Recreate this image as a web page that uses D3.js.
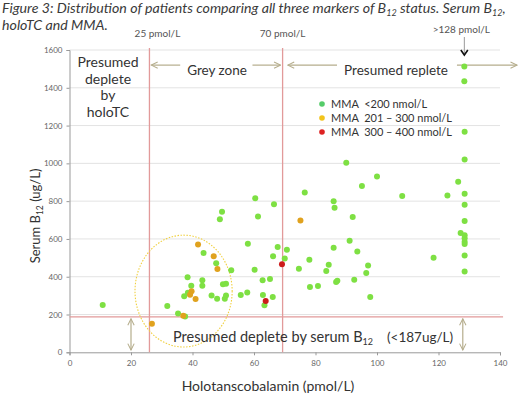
<!DOCTYPE html>
<html>
<head>
<meta charset="utf-8">
<script src="https://cdn.jsdelivr.net/npm/d3@7"></script>
<style>
  body { margin: 0; background: #fff; }
  text { font-family: Lato, "Open Sans", sans-serif; }
</style>
</head>
<body>
<svg id="chart" width="520" height="396"></svg>
<script>
// holoTC (pmol/L), serum B12 (ug/L)
const greenPts = [
  [10.8,250],[31.8,245],[35.3,206],[37.6,190],[37.3,296],[38.5,315],[38.4,397],[39.6,352],
  [43.2,381],[43.2,352],[43.6,525],[46.2,301],[47.7,471],[48.0,284],[49.9,360],[50.9,363],
  [50.5,284],[50.9,301],[52.6,434],[48.9,704],[49.6,744],[55.7,303],[57.8,317],[58.0,575],
  [60.2,437],[60.4,815],[61.3,719],[62.8,381],[65.2,388],[62.9,303],[66.1,293],[63.4,249],
  [66.5,783],[67.7,557],[66.2,508],[70.7,543],[70.0,497],[74.6,442],[76.5,846],[78.0,490],
  [78.2,346],[80.8,351],[83.5,430],[84.3,464],[85.9,553],[85.9,800],[86.2,765],[86.7,372],
  [87.1,379],[90.0,1003],[91.1,590],[92.1,716],[92.6,384],[93.6,534],[95.1,880],[96.5,420],
  [97.1,460],[97.8,293],[100,931],[108.2,827],[118.4,501],[122.9,830],[126.4,903],[127.2,631],
  [128.4,1513],[128.4,1435],[128.5,1167],[128.5,1021],[128.5,839],[128.5,781],[128.5,695],
  [128.5,619],[128.5,603],[128.5,585],[128.5,573],[128.5,513],[128.5,427]
]
const orangePts = [
  [26.8,151],[37.0,194],[39.7,323],[39.2,305],[41.0,282],[41.8,570],[46.9,509],[48.1,441],[75.1,698]
]
const redPts = [[69.1,466],[63.8,271]]

const xTicks = [0,20,40,60,80,100,120,140]
const yTicks = [0,200,400,600,800,1000,1200,1400,1600]
const legendLabels = ["MMA  <200 nmol/L", "MMA  201 \u2013 300 nmol/L", "MMA  300 \u2013 400 nmol/L"]
const legendColors = ["#55cc6a", "#f2c41c", "#dd2222"]
const cutHolo = [26, 69.3]   // 25 and 70 pmol/L lines
const cutB12 = 187

const svg = d3.select("#chart")
const x = d3.scaleLinear().domain([0,140]).range([69.5,500])
const y = d3.scaleLinear().domain([0,1600]).range([352.3,50])

const arrowCol = "#b5ad8c"
const defs = svg.append("defs")
defs.append("marker").attr("id","chev").attr("viewBox","0 0 10 10")
  .attr("refX",9).attr("refY",5).attr("markerWidth",8).attr("markerHeight",8)
  .attr("orient","auto-start-reverse").attr("markerUnits","userSpaceOnUse")
  .append("path").attr("d","M1,1 L9,5 L1,9").attr("fill","none")
  .attr("stroke",arrowCol).attr("stroke-width",1.3)

// title
const title = svg.append("g").attr("fill","#3a3a3a").style("font-style","italic").style("font-size","14.2px")
const t1 = title.append("text").attr("x",2).attr("y",13)
t1.append("tspan").text("Figure 3: Distribution of patients comparing all three markers of B")
t1.append("tspan").text("12").attr("dy",3).style("font-size","9px")
t1.append("tspan").text(" status. Serum B").attr("dy",-3)
t1.append("tspan").text("12").attr("dy",3).style("font-size","9px")
t1.append("tspan").text(",").attr("dy",-3)
title.append("text").attr("x",2).attr("y",30).text("holoTC and MMA.")

// grid
svg.append("g").selectAll("line").data(yTicks.slice(1)).join("line")
  .attr("x1",x(0)).attr("x2",x(140)).attr("y1",d=>y(d)).attr("y2",d=>y(d))
  .attr("stroke","#e3e3e3")

// axes
const yAxis = svg.append("g").attr("transform",`translate(${x(0)},0)`)
  .call(d3.axisLeft(y).tickValues(yTicks).tickFormat(d3.format("d")).tickSize(3).tickPadding(4))
const xAxis = svg.append("g").attr("transform",`translate(0,${y(0)})`)
  .call(d3.axisBottom(x).tickValues(xTicks).tickSize(3).tickPadding(5))
for (const a of [xAxis, yAxis]) {
  a.select(".domain").attr("stroke","#999")
  a.selectAll(".tick line").attr("stroke","#999")
  a.selectAll(".tick text").attr("fill","#666").style("font-size","8px")
}

// cut-off lines
svg.append("g").selectAll("line").data(cutHolo).join("line")
  .attr("x1",d=>x(d)).attr("x2",d=>x(d)).attr("y1",y(1610)).attr("y2",y(0))
  .attr("stroke","#e29a9a").attr("stroke-width",1.3)
svg.append("line").attr("x1",x(0)).attr("x2",x(141)).attr("y1",y(cutB12)).attr("y2",y(cutB12))
  .attr("stroke","#e29a9a").attr("stroke-width",1.3)

// dotted circle round the low group
svg.append("ellipse").attr("cx",x(37.1)).attr("cy",y(324))
  .attr("rx",x(15.8)-x(0)).attr("ry",y(0)-y(296))
  .attr("fill","none").attr("stroke","#f0d040").attr("stroke-width",1.1).attr("stroke-dasharray","1.5,1.5")

// annotations
const ann = svg.append("g").attr("fill","#333")
ann.append("text").attr("x",x(26)+8).attr("y",37).attr("text-anchor","middle")
  .style("font-size","10px").attr("fill","#555").text("25 pmol/L")
ann.append("text").attr("x",x(69.3)).attr("y",37).attr("text-anchor","middle")
  .style("font-size","10px").attr("fill","#555").text("70 pmol/L")
ann.append("text").attr("x",x(128.4)-3).attr("y",33).attr("text-anchor","middle")
  .style("font-size","10px").attr("fill","#555").text(">128 pmol/L")
svg.append("line").attr("x1",x(128.4)).attr("x2",x(128.4)).attr("y1",37).attr("y2",53)
  .attr("stroke","#999").attr("stroke-width",1)
svg.append("path").attr("d",`M${x(128.4)-3.5},${50} L${x(128.4)},${55} L${x(128.4)+3.5},${50}`)
  .attr("fill","none").attr("stroke","#111").attr("stroke-width",1.6)

ann.selectAll("text.holo").data(["Presumed","deplete","by","holoTC"]).join("text")
  .attr("class","holo").attr("x",108).attr("y",(d,i)=>67+i*16.5).attr("text-anchor","middle")
  .style("font-size","14px").text(d=>d)

ann.append("text").attr("x",217).attr("y",75).attr("text-anchor","middle").style("font-size","13.5px").text("Grey zone")
ann.append("text").attr("x",396).attr("y",75).attr("text-anchor","middle").style("font-size","13.5px").text("Presumed replete")

const arrows = [[36,26.6],[59.5,68.6],[87,71],[126,145.5]]
svg.append("g").selectAll("line").data(arrows).join("line")
  .attr("x1",d=>x(d[0])).attr("x2",d=>x(d[1])).attr("y1",y(1520)).attr("y2",y(1520))
  .attr("stroke",arrowCol).attr("stroke-width",1.2).attr("marker-end","url(#chev)")

svg.append("g").selectAll("line").data([20,127.9]).join("line")
  .attr("x1",d=>x(d)).attr("x2",d=>x(d)).attr("y1",y(177)).attr("y2",y(12))
  .attr("stroke",arrowCol).attr("stroke-width",1.2)
  .attr("marker-start","url(#chev)").attr("marker-end","url(#chev)")

const bt = ann.append("text").attr("x",173).attr("y",342).style("font-size","14.5px")
bt.append("tspan").text("Presumed deplete by serum B")
bt.append("tspan").text("12").attr("dy",3).style("font-size","9px")
ann.append("text").attr("x",387).attr("y",342).style("font-size","13.5px").text("(<187ug/L)")

// axis titles
const yl = ann.append("text").attr("transform","translate(40,216) rotate(-90)").attr("text-anchor","middle")
  .style("font-size","13px")
yl.append("tspan").text("Serum B")
yl.append("tspan").text("12").attr("dy",3).style("font-size","8.5px")
yl.append("tspan").text(" (ug/L)").attr("dy",-3)
ann.append("text").attr("x",268).attr("y",391).attr("text-anchor","middle").style("font-size","14px")
  .text("Holotanscobalamin (pmol/L)")

// points
const series = [[greenPts,"#7ee043"],[orangePts,"#e0a21e"],[redPts,"#cc1b1b"]]
for (const [pts,col] of series) {
  svg.append("g").selectAll("circle").data(pts).join("circle")
    .attr("cx",d=>x(d[0])).attr("cy",d=>y(d[1])).attr("r",3).attr("fill",col)
}

// legend
const lg = svg.append("g")
lg.selectAll("circle").data(legendColors).join("circle")
  .attr("cx",322).attr("cy",(d,i)=>104+i*14).attr("r",2.8).attr("fill",d=>d)
lg.selectAll("text").data(legendLabels).join("text")
  .attr("x",331).attr("y",(d,i)=>108+i*14).style("font-size","11px").attr("fill","#333")
  .style("white-space","pre").text(d=>d)
</script>
</body>
</html>
